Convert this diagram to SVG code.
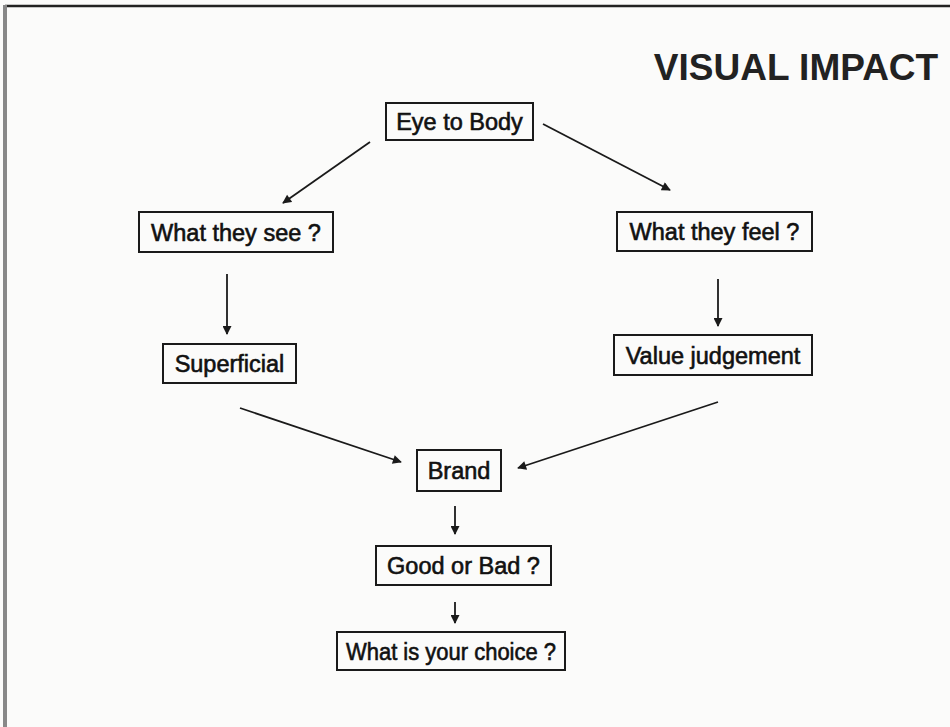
<svg xmlns="http://www.w3.org/2000/svg" width="950" height="727" viewBox="0 0 950 727">
<defs>
<style>
.box{fill:none;stroke:#1a1a1a;stroke-width:2}
.lbl{font-family:"Liberation Sans",Arial,sans-serif;font-size:23.5px;fill:#111;stroke:#111;stroke-width:0.6;text-anchor:middle}
.edge{stroke:#1a1a1a;stroke-width:1.8;fill:none;marker-end:url(#ah)}
</style>
<marker id="ah" viewBox="0 0 10 10" refX="9" refY="5" markerWidth="10" markerHeight="9" orient="auto" markerUnits="userSpaceOnUse">
<path d="M0,0 L10,5 L0,10 z" fill="#1a1a1a"/>
</marker>
</defs>
<rect width="950" height="727" fill="#fbfbfa"/>
<line x1="5" y1="6" x2="950" y2="6" stroke="#222" stroke-width="2.5"/>
<line x1="5" y1="5" x2="5" y2="727" stroke="#888" stroke-width="4"/>
<text x="796" y="80" font-family="Liberation Sans,Arial,sans-serif" font-size="37" font-weight="bold" fill="#222" text-anchor="middle">VISUAL IMPACT</text>
<g id="connectors">
<line class="edge" x1="370" y1="142" x2="283" y2="203"/>
<line class="edge" x1="543" y1="124" x2="670" y2="190"/>
<line class="edge" x1="227" y1="274" x2="227" y2="334"/>
<line class="edge" x1="718" y1="279" x2="718" y2="326"/>
<line class="edge" x1="240" y1="408" x2="401" y2="462"/>
<line class="edge" x1="718" y1="402" x2="518" y2="468"/>
<line class="edge" x1="455" y1="506" x2="455" y2="534"/>
<line class="edge" x1="455" y1="602" x2="455" y2="623"/>
</g>
<g id="eye"><rect class="box" x="386" y="103" width="147" height="37"/><text class="lbl" x="459.5" y="130">Eye to Body</text></g>
<g id="see"><rect class="box" x="139" y="212" width="194" height="40"/><text class="lbl" x="236" y="240.5">What they see ?</text></g>
<g id="feel"><rect class="box" x="617" y="212" width="195" height="39"/><text class="lbl" x="714.5" y="240">What they feel ?</text></g>
<g id="superficial"><rect class="box" x="163" y="344" width="133" height="39"/><text class="lbl" x="229.5" y="372">Superficial</text></g>
<g id="value"><rect class="box" x="614" y="335" width="198" height="40"/><text class="lbl" x="713" y="363.5">Value judgement</text></g>
<g id="brand"><rect class="box" x="417" y="450" width="84" height="41"/><text class="lbl" x="459" y="479">Brand</text></g>
<g id="goodbad"><rect class="box" x="376" y="546" width="175" height="39"/><text class="lbl" x="463.5" y="574">Good or Bad ?</text></g>
<g id="choice"><rect class="box" x="337" y="632" width="228" height="38"/><text class="lbl" x="451" y="659.5" textLength="210" lengthAdjust="spacingAndGlyphs">What is your choice ?</text></g>
</svg>
